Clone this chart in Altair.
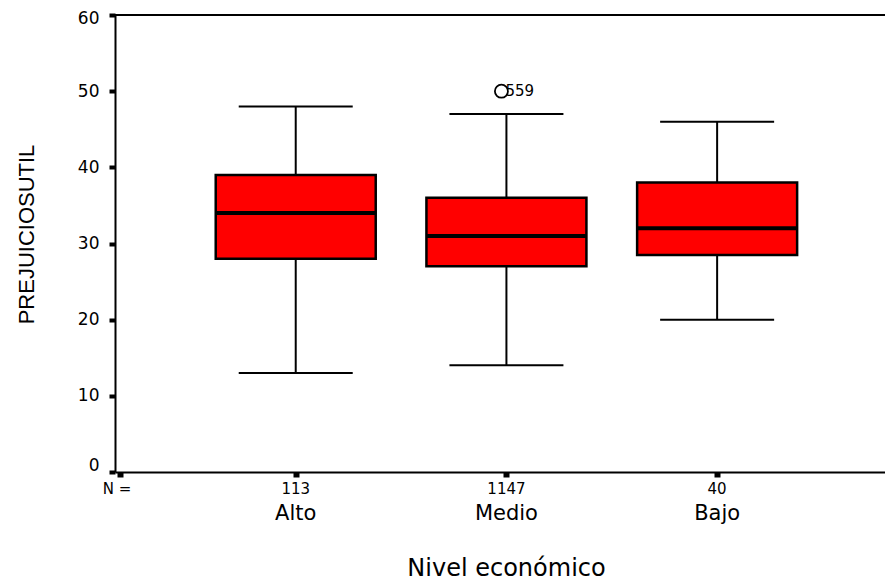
import altair as alt
import pandas as pd

# ---- data ----
groups = ["Alto", "Medio", "Bajo"]
positions = [1, 2, 3]
counts = ["113", "1147", "40"]
whisker_low = [13, 14, 20]
q1 = [28, 27, 28.5]
median = [34, 31, 32]
q3 = [39, 36, 38]
whisker_high = [48, 47, 46]
outlier_pos = [2]
outlier_value = [50]
outlier_case = ["559"]
y_ticks = [0, 10, 20, 30, 40, 50, 60]
n_label = ["N ="]

X_MIN, X_MAX = 0.166, 3.773
PLOT_W, PLOT_H = 770, 457
FONT = "DejaVu Sans"

df = pd.DataFrame(dict(group=groups, pos=positions, n=counts, lo=whisker_low,
                       q1=q1, med=median, q3=q3, hi=whisker_high))
out = pd.DataFrame(dict(pos=outlier_pos, val=outlier_value, case=outlier_case))
nlab = pd.DataFrame(dict(pos=[X_MIN], t=n_label))
top = pd.DataFrame(dict(v=[60]))

xs = alt.Scale(domain=[X_MIN, X_MAX], nice=False, zero=False)
ys = alt.Scale(domain=[0, 60], nice=False, zero=False)

X_AXIS = alt.Axis(values=[X_MIN, 1, 2, 3], labels=False, grid=False,
                  title="Nivel económico", titleFont=FONT, titleFontSize=24,
                  titleFontWeight="normal", titleColor="black",
                  titleY=103, titleX=391, titleBaseline="alphabetic",
                  domainColor="black", domainWidth=2,
                  tickColor="black", tickSize=5, tickWidth=6)
Y_AXIS = alt.Axis(values=y_ticks, grid=False, title="PREJUICIOSUTIL",
                  titleFont="Liberation Sans", titleFontSize=22,
                  titleFontWeight="normal", titleColor="black",
                  titleAngle=270, titleX=-89, titleY=219,
                  titleAlign="center", titleBaseline="middle",
                  labelFont=FONT, labelFontSize=17, labelColor="black",
                  labelPadding=10, labelBaseline="middle",
                  labelOffset={"condition": [{"test": "datum.value == 0", "value": -7},
                                             {"test": "datum.value == 60", "value": 3.5}],
                               "value": 0},
                  domainColor="black", domainWidth=2,
                  tickColor="black", tickSize=6, tickWidth=4)


def X(field="pos:Q"):
    return alt.X(field, scale=xs, axis=X_AXIS)


def Y(field):
    return alt.Y(field, scale=ys, axis=Y_AXIS)


base = alt.Chart(df)

top_line = alt.Chart(top).mark_rule(color="black", strokeWidth=2).encode(y=Y("v:Q"))

whisk_up = base.mark_rule(color="black", strokeWidth=2).encode(
    x=X(), y=Y("q3:Q"), y2="hi:Q")
whisk_dn = base.mark_rule(color="black", strokeWidth=2).encode(
    x=X(), y=Y("lo:Q"), y2="q1:Q")
cap_hi = base.mark_tick(orient="horizontal", size=114, thickness=2,
                        color="black", opacity=1).encode(x=X(), y=Y("hi:Q"))
cap_lo = base.mark_tick(orient="horizontal", size=114, thickness=2,
                        color="black", opacity=1).encode(x=X(), y=Y("lo:Q"))

boxes = base.mark_bar(size=160, color="#FF0000", stroke="black",
                      strokeWidth=2.5, opacity=1).encode(
    x=X(), y=Y("q1:Q"), y2="q3:Q")

med = base.mark_tick(orient="horizontal", size=160, thickness=4,
                     color="black", opacity=1).encode(x=X(), y=Y("med:Q"))

outl = alt.Chart(out).mark_point(shape="circle", size=170, filled=False,
                                 stroke="black", strokeWidth=1.8, opacity=1).encode(
    x=X(), y=Y("val:Q"), xOffset=alt.value(-5))
outl_txt = alt.Chart(out).mark_text(align="left", baseline="middle", dx=-1,
                                    font=FONT, fontSize=15, color="black").encode(
    x=X(), y=Y("val:Q"), text="case:N")

n_txt = base.mark_text(baseline="middle", font=FONT, fontSize=15,
                       color="black").encode(x=X(), y=alt.value(474), text="n:N")
n_head = alt.Chart(nlab).mark_text(baseline="middle", font=FONT, fontSize=15, dx=-3,
                                   color="black").encode(x=X(), y=alt.value(474), text="t:N")
cat_txt = base.mark_text(baseline="middle", font=FONT, fontSize=21,
                         color="black").encode(x=X(), y=alt.value(499), text="group:N")

chart = alt.layer(
    boxes, top_line, whisk_up, whisk_dn, cap_hi, cap_lo, med,
    outl, outl_txt, n_txt, n_head, cat_txt,
).properties(
    width=PLOT_W, height=PLOT_H,
    autosize=alt.AutoSizeParams(type="none"),
    padding={"left": 107, "top": 7, "right": 0, "bottom": 108},
).configure_view(stroke="transparent", strokeWidth=0).configure(background="white")

chart.save("out.html", embed_options={"renderer": "svg", "actions": False})
